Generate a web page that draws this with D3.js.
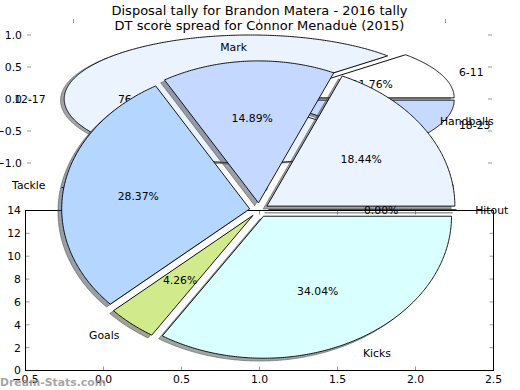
<!DOCTYPE html>
<html>
<head>
<meta charset="utf-8">
<title>Disposal tally / DT score spread</title>
<script src="https://cdnjs.cloudflare.com/ajax/libs/d3/7.8.5/d3.min.js"></script>
<style>
  body { margin: 0; background: #fff; }
  text { font-family: "DejaVu Sans", sans-serif; }
</style>
</head>
<body>
<svg id="chart" width="520" height="390"></svg>
<script>
// titles
var titleDisp = "Disposal tally for Brandon Matera - 2016 tally";
var titleDT = "DT score spread for Connor Menadue (2015)";

// DT score spread (games per bracket)
var dtLabels = ["6-11", "12-17", "18-23"];
var dtCounts = [2, 13, 2];
var dtColors = ["#ffffff", "#ebf3ff", "#c6d9ff"];

// disposal tally
var dispLabels = ["Hitout", "Handballs", "Mark", "Tackle", "Goals", "Kicks"];
var dispCounts = [0, 26, 21, 40, 6, 48];
var dispColors = ["#ffffff", "#ebf3ff", "#c5d8ff", "#b4d6ff", "#d1ea8b", "#d9ffff"];

// tick labels
var pieTicks = [-1.0, -0.5, 0.0, 0.5, 1.0];
var lowXTicks = [-0.5, 0.0, 0.5, 1.0, 1.5, 2.0, 2.5];
var lowYTicks = [0, 2, 4, 6, 8, 10, 12, 14];

var explode = 0.05;
var fs = 10.83;

var svg = d3.select("#chart");

// scales
var xTop = d3.scaleLinear().domain([-1.25, 1.25]).range([27, 492]);
var yTop = d3.scaleLinear().domain([-1.25, 1.25]).range([179, 19]);
var xDisp = d3.scaleLinear().domain([-1.25, 1.25]).range([24, 494]);
var yDisp = d3.scaleLinear().domain([-1.25, 1.25]).range([387.5, 32.5]);
var xLow = d3.scaleLinear().domain([-0.5, 2.5]).range([25.5, 493.5]);
var yLow = d3.scaleLinear().domain([0, 14]).range([370.5, 210.5]);

var tickCol = "#999";
var f1 = d3.format(".1f");

// ---- lower axes (frame, ticks, labels)
var lowAx = svg.append("g");
lowXTicks.forEach(function(v) {
  lowAx.append("line").attr("x1", xLow(v)).attr("x2", xLow(v))
    .attr("y1", yLow(0)).attr("y2", yLow(0) - 4).attr("stroke", tickCol);
  lowAx.append("line").attr("x1", xLow(v)).attr("x2", xLow(v))
    .attr("y1", yLow(14)).attr("y2", yLow(14) + 4).attr("stroke", tickCol);
  lowAx.append("text").attr("x", xLow(v)).attr("y", 383)
    .attr("text-anchor", "middle").attr("font-size", fs).text(f1(v));
});
lowYTicks.forEach(function(v) {
  lowAx.append("line").attr("x1", xLow(-0.5)).attr("x2", xLow(-0.5) + 4)
    .attr("y1", yLow(v)).attr("y2", yLow(v)).attr("stroke", tickCol);
  lowAx.append("line").attr("x1", xLow(2.5)).attr("x2", xLow(2.5) - 4)
    .attr("y1", yLow(v)).attr("y2", yLow(v)).attr("stroke", tickCol);
  lowAx.append("text").attr("x", xLow(-0.5) - 4.5).attr("y", yLow(v))
    .attr("dy", "0.36em").attr("text-anchor", "end").attr("font-size", fs).text(v);
});
lowAx.append("rect")
  .attr("x", xLow(-0.5)).attr("y", yLow(14))
  .attr("width", xLow(2.5) - xLow(-0.5)).attr("height", yLow(0) - yLow(14))
  .attr("fill", "none").attr("stroke", "#000").attr("stroke-width", 1);

// ---- wedge helper
function wedgePts(cx, cy, r, t1, t2) {
  var pts = [[cx, cy]];
  var n = Math.max(2, Math.ceil((t2 - t1) / 0.01));
  for (var i = 0; i <= n; i++) {
    var t = t1 + (t2 - t1) * i / n;
    pts.push([cx + r * Math.cos(t), cy + r * Math.sin(t)]);
  }
  return pts;
}

function drawPie(g, sx, sy, counts, labels, colors) {
  var arcs = d3.pie().sort(null).startAngle(0).endAngle(2 * Math.PI)(counts);
  var total = d3.sum(counts);
  var line = d3.line().x(function(d) { return sx(d[0]); }).y(function(d) { return sy(d[1]); });

  var items = arcs.map(function(a, i) {
    var mid = (a.startAngle + a.endAngle) / 2;
    return {
      a: a, i: i, mid: mid,
      cx: explode * Math.cos(mid), cy: explode * Math.sin(mid)
    };
  });

  // shadows below all wedges
  items.forEach(function(d) {
    var c = d3.rgb(colors[d.i]);
    var sc = d3.rgb(c.r * 0.3, c.g * 0.3, c.b * 0.3);
    g.append("path")
      .attr("d", line(wedgePts(d.cx - 0.02, d.cy - 0.02, 1, d.a.startAngle, d.a.endAngle)) + "Z")
      .attr("fill", sc).attr("stroke", sc).attr("stroke-width", 1)
      .attr("fill-opacity", 0.5).attr("stroke-opacity", 0.5);
  });
  items.forEach(function(d) {
    g.append("path")
      .attr("d", line(wedgePts(d.cx, d.cy, 1, d.a.startAngle, d.a.endAngle)) + "Z")
      .attr("fill", colors[d.i]).attr("stroke", "#000").attr("stroke-width", 0.9);
  });
  items.forEach(function(d) {
    var lx = d.cx + 1.1 * Math.cos(d.mid), ly = d.cy + 1.1 * Math.sin(d.mid);
    g.append("text").attr("x", sx(lx)).attr("y", sy(ly)).attr("dy", "0.36em")
      .attr("text-anchor", lx > 0 ? "start" : "end").attr("font-size", fs)
      .text(labels[d.i]);
    var px = d.cx + 0.6 * Math.cos(d.mid), py = d.cy + 0.6 * Math.sin(d.mid);
    g.append("text").attr("x", sx(px)).attr("y", sy(py)).attr("dy", "0.36em")
      .attr("text-anchor", "middle").attr("font-size", fs)
      .text((counts[d.i] / total * 100).toFixed(2) + "%");
  });
}

// ---- upper axes: DT score pie
var topAx = svg.append("g");
drawPie(topAx, xTop, yTop, dtCounts, dtLabels, dtColors);
pieTicks.forEach(function(v) {
  topAx.append("line").attr("x1", xTop(-1.25)).attr("x2", xTop(-1.25) + 4)
    .attr("y1", yTop(v)).attr("y2", yTop(v)).attr("stroke", tickCol);
  topAx.append("line").attr("x1", xTop(1.25)).attr("x2", xTop(1.25) - 4)
    .attr("y1", yTop(v)).attr("y2", yTop(v)).attr("stroke", tickCol);
  topAx.append("line").attr("x1", xTop(v)).attr("x2", xTop(v))
    .attr("y1", yTop(1.25)).attr("y2", yTop(1.25) + 4).attr("stroke", tickCol);
  topAx.append("line").attr("x1", xTop(v)).attr("x2", xTop(v))
    .attr("y1", yTop(-1.25)).attr("y2", yTop(-1.25) - 4).attr("stroke", tickCol);
  topAx.append("text").attr("x", xTop(-1.25) - 5).attr("y", yTop(v))
    .attr("dy", "0.36em").attr("text-anchor", "end").attr("font-size", fs).text(f1(v));
  topAx.append("text").attr("x", xTop(v)).attr("y", yTop(-1.25) + 12)
    .attr("text-anchor", "middle").attr("font-size", fs).text(f1(v));
});

// ---- disposal pie (drawn last, over the others)
var dispAx = svg.append("g");
drawPie(dispAx, xDisp, yDisp, dispCounts, dispLabels, dispColors);

// ---- titles
svg.append("text").attr("x", 259.5).attr("y", 14.5).attr("text-anchor", "middle")
  .attr("font-size", 13).text(titleDisp);
svg.append("text").attr("x", 259.5).attr("y", 30).attr("text-anchor", "middle")
  .attr("font-size", 13).text(titleDT);

// watermark
svg.append("text").attr("x", 0).attr("y", 385.5).attr("font-size", fs)
  .attr("font-weight", "bold").attr("fill", "#888").attr("fill-opacity", 0.75)
  .text("Dream-Stats.com");
</script>
</body>
</html>
